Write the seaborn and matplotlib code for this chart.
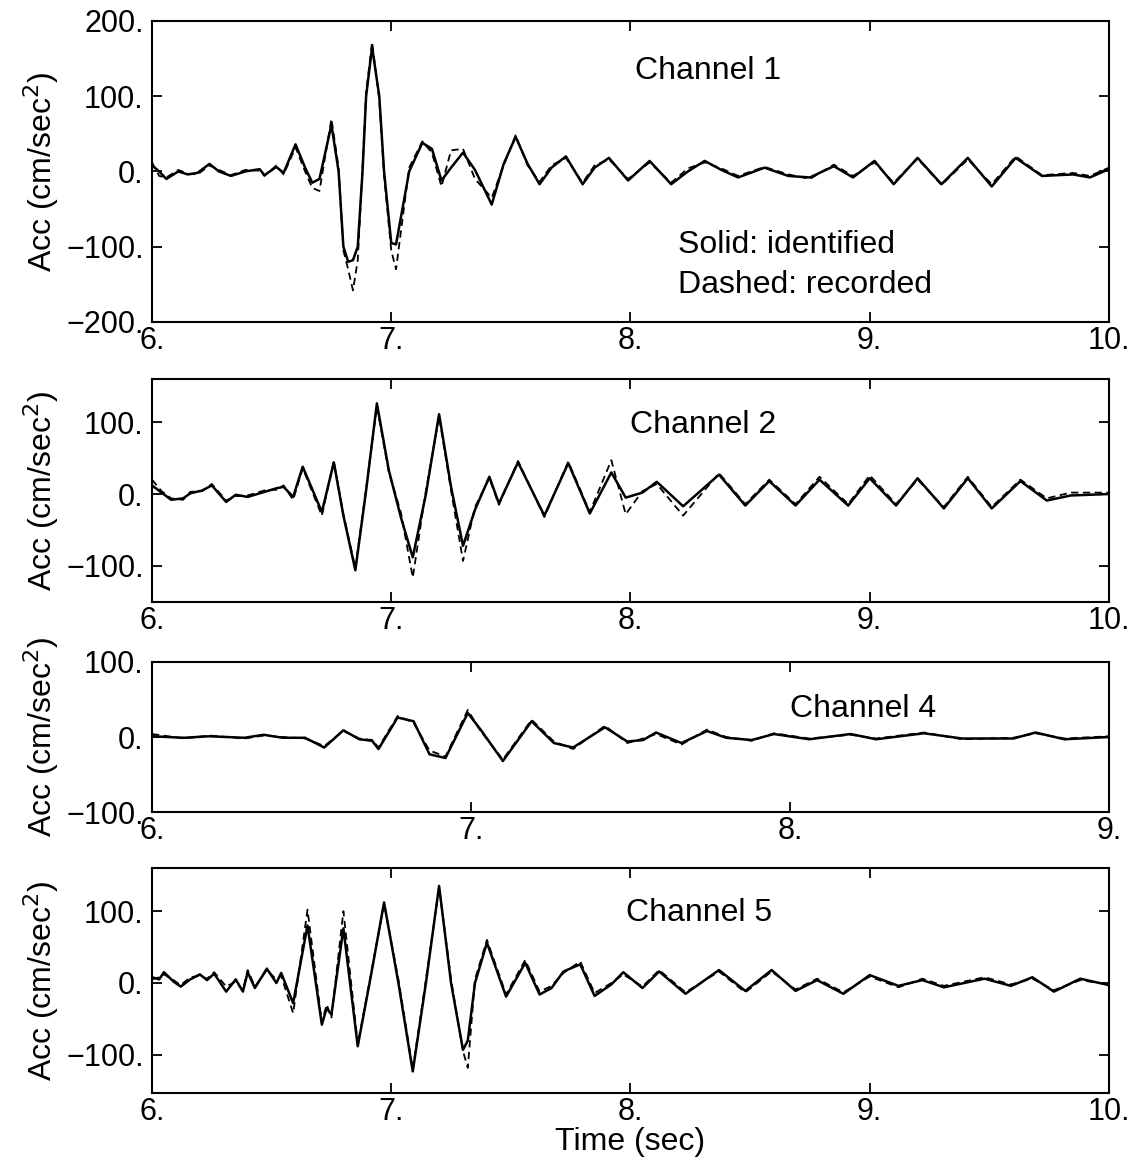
import pandas as pd
import matplotlib
matplotlib.use('Agg')
import matplotlib.pyplot as plt
import seaborn as sns
from matplotlib.ticker import FuncFormatter

# channel 1
t1 = [6.00, 6.03, 6.06, 6.11, 6.15, 6.19, 6.24, 6.28, 6.33, 6.39,
      6.45, 6.47, 6.52, 6.55, 6.60, 6.64, 6.67, 6.70, 6.75, 6.78,
      6.80, 6.82, 6.84, 6.86, 6.88, 6.895, 6.92, 6.95, 6.97, 7.00,
      7.02, 7.075, 7.13, 7.17, 7.21, 7.25, 7.30, 7.35, 7.42, 7.47,
      7.52, 7.57, 7.62, 7.67, 7.73, 7.80, 7.85, 7.91, 7.99, 8.08,
      8.17, 8.24, 8.31, 8.38, 8.45, 8.56, 8.66, 8.75, 8.85, 8.93,
      9.02, 9.10, 9.20, 9.30, 9.41, 9.51, 9.61, 9.72, 9.85, 9.92,
      10.00]
ident1 = [8, 0, -10, 0, -4, -2, 10, 0, -6, 0,
          3, -5, 6, -2, 36, 5, -15, -10, 62, 0,
          -100, -120, -118, -100, 0, 100, 165, 100, 0, -95,
          -97, 0, 38, 30, -12, 5, 25, 2, -44, 10,
          46, 10, -17, 5, 20, -17, 5, 18, -12, 14,
          -17, 0, 14, 2, -8, 5, -6, -8, 7, -8,
          14, -17, 18, -17, 18, -20, 18, -6, -4, -8,
          3]
rec1 = [12, -6, -8, 2, -3, -4, 8, 2, -5, 2,
        1, -6, 8, -4, 32, 0, -22, -26, 70, 5,
        -105, -130, -158, -118, 5, 105, 172, 95, -5, -105,
        -130, 5, 40, 25, -20, 28, 30, -10, -35, 8,
        48, 8, -14, 8, 18, -15, 8, 16, -10, 12,
        -15, 4, 12, 4, -6, 6, -4, -10, 9, -6,
        12, -15, 17, -18, 16, -17, 20, -5, -2, -6,
        5]

# channel 2
t2 = [6.00, 6.04, 6.08, 6.13, 6.16, 6.21, 6.25, 6.31, 6.35, 6.40,
      6.47, 6.52, 6.55, 6.59, 6.63, 6.71, 6.76, 6.80, 6.85, 6.895,
      6.94, 6.99, 7.04, 7.09, 7.145, 7.20, 7.25, 7.30, 7.35, 7.41,
      7.45, 7.53, 7.64, 7.74, 7.83, 7.92, 7.98, 8.05, 8.11, 8.22,
      8.37, 8.48, 8.58, 8.69, 8.79, 8.91, 9.00, 9.11, 9.20, 9.31,
      9.41, 9.51, 9.63, 9.74, 9.84, 10.00]
ident2 = [12, 2, -8, -6, 1, 5, 12, -11, -1, -4,
          3, 8, 10, -4, 38, -25, 44, -30, -106, 5,
          126, 33, -32, -88, 0, 111, 10, -72, -22, 24,
          -13, 44, -30, 43, -27, 30, -5, 2, 17, -17,
          27, -16, 18, -16, 20, -16, 22, -16, 22, -20,
          22, -20, 18, -9, -2, 0]
rec2 = [20, 4, -6, -8, 3, 4, 14, -9, -3, -2,
        5, 6, 12, -8, 36, -30, 46, -28, -103, 8,
        122, 30, -25, -116, 5, 108, 5, -93, -18, 22,
        -15, 46, -32, 45, -25, 47, -28, 4, 14, -30,
        29, -14, 20, -14, 24, -14, 26, -14, 20, -18,
        24, -18, 20, -6, 2, 2]

# channel 4
t4 = [6.00, 6.10, 6.18, 6.29, 6.35, 6.41, 6.48, 6.54, 6.60, 6.65,
      6.69, 6.71, 6.77, 6.82, 6.87, 6.92, 6.99, 7.03, 7.10, 7.19,
      7.26, 7.32, 7.42, 7.49, 7.54, 7.58, 7.66, 7.74, 7.80, 7.88,
      7.95, 8.06, 8.19, 8.27, 8.42, 8.54, 8.70, 8.77, 8.86, 9.00]
ident4 = [1, -1, 1, -1, 3, -1, -1, -14, 9, -3,
          -5, -16, 26, 21, -23, -28, 32, 10, -32, 21,
          -8, -14, 13, -6, -4, 6, -8, 8, -1, -4,
          4, -3, 4, -3, 5, -2, -2, 6, -3, 0]
rec4 = [4, -2, 2, -2, 2, 0, -2, -12, 8, -2,
        -4, -14, 28, 19, -18, -26, 36, 8, -30, 23,
        -6, -16, 15, -8, -2, 4, -10, 10, 0, -5,
        5, -2, 3, -2, 6, -3, -1, 5, -2, 1]

# channel 5
t5 = [6.00, 6.03, 6.05, 6.09, 6.12, 6.16, 6.20, 6.23, 6.26, 6.31,
      6.35, 6.38, 6.40, 6.43, 6.48, 6.52, 6.54, 6.59, 6.65, 6.71,
      6.73, 6.75, 6.80, 6.86, 6.915, 6.97, 7.03, 7.09, 7.145, 7.20,
      7.25, 7.30, 7.32, 7.35, 7.40, 7.48, 7.56, 7.62, 7.67, 7.72,
      7.79, 7.85, 7.92, 7.97, 8.05, 8.12, 8.23, 8.37, 8.48, 8.59,
      8.69, 8.78, 8.89, 9.00, 9.12, 9.22, 9.31, 9.48, 9.59, 9.68,
      9.77, 9.88, 10.00]
ident5 = [8, 5, 15, 2, -5, 5, 12, 4, 13, -12,
          5, -12, 15, -7, 20, 0, 14, -28, 80, -58,
          -35, -44, 76, -88, 10, 112, 0, -123, 0, 135,
          0, -93, -80, 0, 56, -19, 28, -16, -7, 16,
          26, -18, -2, 15, -7, 16, -15, 18, -11, 18,
          -11, 4, -15, 11, -4, 4, -6, 6, -4, 8,
          -12, 6, -3]
rec5 = [5, 8, 12, 4, -3, 8, 10, 6, 15, -5,
        2, -10, 18, -5, 18, 5, 10, -42, 102, -55,
        -30, -48, 100, -85, 12, 110, 5, -120, 5, 133,
        5, -95, -118, 5, 60, -16, 32, -12, -4, 14,
        30, -14, 0, 12, -5, 18, -13, 16, -13, 16,
        -9, 6, -13, 9, -6, 6, -4, 8, -2, 6,
        -10, 4, -2]

panels = [
    ('Channel 1', t1, ident1, rec1, (6, 10), (-200, 200), [-200, -100, 0, 100, 200], (8.02, 134)),
    ('Channel 2', t2, ident2, rec2, (6, 10), (-150, 160), [-100, 0, 100], (8.0, 96)),
    ('Channel 4', t4, ident4, rec4, (6, 9), (-100, 100), [-100, 0, 100], (8.0, 37)),
    ('Channel 5', t5, ident5, rec5, (6, 10), (-153, 160), [-100, 0, 100], (7.98, 97)),
]

sns.set_style('ticks')
plt.rcParams['font.family'] = ['Liberation Sans', 'DejaVu Sans']
plt.rcParams['axes.edgecolor'] = 'black'
plt.rcParams['text.color'] = 'black'
plt.rcParams['axes.labelcolor'] = 'black'

fig = plt.figure(figsize=(11.36, 11.75), dpi=100)
boxes = [(0.1338, 0.7260, 0.8424, 0.2562),
         (0.1338, 0.4877, 0.8424, 0.1898),
         (0.1338, 0.3089, 0.8424, 0.1277),
         (0.1338, 0.0698, 0.8424, 0.1915)]

fmt = FuncFormatter(lambda v, pos: f"{v:g}.".replace('-', '\u2212'))

for box, (name, t, ident, rec, xlim, ylim, yticks, txt) in zip(boxes, panels):
    ax = fig.add_axes(box)
    assert len(t) == len(ident) == len(rec), name
    df = pd.DataFrame({'t': t * 2, 'acc': ident + rec,
                       'kind': ['identified'] * len(t) + ['recorded'] * len(t)})
    sns.lineplot(data=df, x='t', y='acc', style='kind', ax=ax, color='black',
                 dashes={'identified': '', 'recorded': (4, 2.5)},
                 estimator=None, sort=False, legend=False, linewidth=1.5)
    ax.lines[0].set_linewidth(1.8)
    ax.lines[1].set_linewidth(1.3)
    for ln in ax.lines:
        ln.set_solid_joinstyle('round')
        ln.set_dash_joinstyle('round')
    ax.set_xlim(*xlim)
    ax.set_ylim(*ylim)
    ax.set_xticks(range(xlim[0], xlim[1] + 1))
    ax.set_yticks(yticks)
    ax.xaxis.set_major_formatter(fmt)
    ax.yaxis.set_major_formatter(fmt)
    ax.tick_params(direction='in', top=True, right=True, length=7, width=1.3,
                   labelsize=22, colors='black')
    ax.tick_params(axis='x', pad=3)
    ax.tick_params(axis='y', pad=6)
    for s in ax.spines.values():
        s.set_linewidth(1.5)
        s.set_color('black')
    ax.set_xlabel('')
    ax.set_ylabel('Acc (cm/sec$^2$)', fontsize=23)
    ax.yaxis.set_label_coords(-0.095, 0.5)
    ax.text(txt[0], txt[1], name, fontsize=23, va='center', ha='left')
    if name == 'Channel 1':
        ax.text(8.20, -98, 'Solid: identified', fontsize=23, va='center', ha='left')
        ax.text(8.20, -151, 'Dashed: recorded', fontsize=23, va='center', ha='left')
    if name == 'Channel 5':
        ax.set_xlabel('Time (sec)', fontsize=23, labelpad=0)

fig.savefig('out.png', dpi=100)
